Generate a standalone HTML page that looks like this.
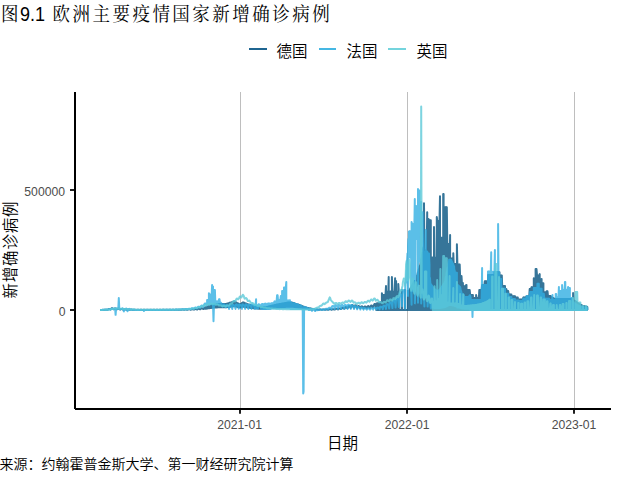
<!DOCTYPE html>
<html lang="zh">
<head>
<meta charset="utf-8">
<title>图9.1 欧洲主要疫情国家新增确诊病例</title>
<style>
html,body{margin:0;padding:0;background:#fff;}
body{width:640px;height:480px;overflow:hidden;}
svg{display:block;}
.sans{font-family:"Liberation Sans","Noto Sans CJK SC",sans-serif;font-weight:350;}
.serif{font-family:"Liberation Sans","Noto Serif CJK SC",serif;}
.tick{font-family:"Liberation Sans",sans-serif;font-size:12.2px;fill:#4d4d4d;}
</style>
</head>
<body>
<svg xmlns="http://www.w3.org/2000/svg" width="640" height="480" viewBox="0 0 640 480">
<rect x="0" y="0" width="640" height="480" fill="#ffffff"/>
<!-- title -->
<text class="serif" transform="translate(0,20.85) scale(1,1.1)" x="1" y="0" font-size="17.5" fill="#000">图</text>
<text class="serif" transform="translate(20.1,20.6) scale(1.035,1.115)" x="0" y="0" font-size="17.4" fill="#000">9.1</text>
<text class="serif" transform="translate(0,20.85) scale(1,1.1)" x="52.5" y="0" font-size="17.5" letter-spacing="2.5" fill="#000">欧洲主要疫情国家新增确诊病例</text>
<!-- legend -->
<g stroke-width="2" fill="none">
<line x1="249" y1="49" x2="267" y2="49" stroke="#1f6591"/>
<line x1="319" y1="49" x2="336" y2="49" stroke="#45b7e3"/>
<line x1="388" y1="49" x2="406" y2="49" stroke="#74d4dd"/>
</g>
<g class="sans" font-size="15.5" fill="#000">
<text x="276.5" y="56.5">德国</text>
<text x="346.5" y="56.5">法国</text>
<text x="416.5" y="56.5">英国</text>
</g>
<!-- grid -->
<g fill="#bebebe">
<rect x="240" y="92" width="1" height="316"/>
<rect x="407" y="92" width="1" height="316"/>
<rect x="574" y="92" width="1" height="316"/>
</g>
<!-- data -->
<g id="series">
<polyline fill="none" stroke="#045380" stroke-opacity="0.8" stroke-width="2" stroke-linejoin="round" points="100.0,310.0 100.5,310.0 101.0,310.0 101.4,310.0 101.9,309.9 102.3,309.9 102.8,309.8 103.2,309.9 103.7,309.9 104.2,309.9 104.6,309.8 105.1,309.7 105.5,309.7 106.0,309.7 106.4,309.7 106.9,309.8 107.4,309.8 107.8,309.6 108.3,309.3 108.7,309.1 109.2,309.0 109.6,309.1 110.1,309.3 110.6,309.4 111.0,309.1 111.5,308.4 111.9,308.2 112.4,308.3 112.8,308.6 113.3,309.0 113.8,309.2 114.2,309.0 114.7,308.4 115.1,308.4 115.6,308.4 116.1,308.7 116.5,309.1 117.0,309.3 117.4,309.1 117.9,308.7 118.3,308.6 118.8,308.7 119.3,309.0 119.7,309.3 120.2,309.5 120.6,309.3 121.1,309.0 121.5,309.0 122.0,309.0 122.5,309.2 122.9,309.5 123.4,309.6 123.8,309.5 124.3,309.3 124.7,309.2 125.2,309.3 125.7,309.4 126.1,309.6 126.6,309.7 127.0,309.6 127.5,309.4 127.9,309.4 128.4,309.5 128.9,309.6 129.3,309.7 129.8,309.8 130.2,309.7 130.7,309.6 131.1,309.6 131.6,309.6 132.1,309.7 132.5,309.8 133.0,309.9 133.4,309.8 133.9,309.8 134.4,309.8 134.8,309.8 135.3,309.8 135.7,309.9 136.2,309.9 136.6,309.9 137.1,309.8 137.6,309.8 138.0,309.8 138.5,309.8 138.9,309.9 139.4,309.9 139.8,309.9 140.3,309.8 140.8,309.8 141.2,309.8 141.7,309.8 142.1,309.9 142.6,309.9 143.0,309.9 143.5,309.8 144.0,309.8 144.4,309.8 144.9,309.8 145.3,309.9 145.8,309.9 146.2,309.9 146.7,309.8 147.2,309.8 147.6,309.8 148.1,309.8 148.5,309.9 149.0,309.9 149.5,309.9 149.9,309.8 150.4,309.8 150.8,309.8 151.3,309.8 151.7,309.9 152.2,309.9 152.7,309.9 153.1,309.8 153.6,309.8 154.0,309.8 154.5,309.8 154.9,309.9 155.4,309.9 155.9,309.9 156.3,309.8 156.8,309.8 157.2,309.8 157.7,309.8 158.1,309.9 158.6,309.9 159.1,309.9 159.5,309.8 160.0,309.8 160.4,309.8 160.9,309.8 161.3,309.9 161.8,309.9 162.3,309.9 162.7,309.8 163.2,309.8 163.6,309.8 164.1,309.8 164.5,309.9 165.0,309.9 165.5,309.9 165.9,309.8 166.4,309.8 166.8,309.8 167.3,309.8 167.8,309.9 168.2,309.9 168.7,309.9 169.1,309.8 169.6,309.8 170.0,309.8 170.5,309.8 171.0,309.9 171.4,309.9 171.9,309.9 172.3,309.8 172.8,309.8 173.2,309.8 173.7,309.8 174.2,309.9 174.6,309.9 175.1,309.9 175.5,309.8 176.0,309.8 176.4,309.8 176.9,309.8 177.4,309.8 177.8,309.9 178.3,309.8 178.7,309.7 179.2,309.7 179.6,309.7 180.1,309.7 180.6,309.8 181.0,309.8 181.5,309.8 181.9,309.6 182.4,309.6 182.9,309.6 183.3,309.6 183.8,309.7 184.2,309.8 184.7,309.7 185.1,309.5 185.6,309.4 186.1,309.4 186.5,309.5 187.0,309.7 187.4,309.7 187.9,309.6 188.3,309.4 188.8,309.3 189.3,309.3 189.7,309.4 190.2,309.6 190.6,309.7 191.1,309.5 191.5,309.3 192.0,309.2 192.5,309.2 192.9,309.3 193.4,309.5 193.8,309.6 194.3,309.5 194.7,309.1 195.2,309.0 195.7,309.0 196.1,309.2 196.6,309.4 197.0,309.5 197.5,309.4 197.9,309.0 198.4,308.8 198.9,308.8 199.3,308.9 199.8,309.2 200.2,309.3 200.7,309.0 201.2,308.4 201.6,308.2 202.1,308.2 202.5,308.5 203.0,308.9 203.4,309.1 203.9,308.7 204.4,307.8 204.8,307.5 205.3,308.8 205.3,307.4 205.7,307.2 205.7,308.8 206.2,308.7 206.2,307.1 206.6,306.9 206.6,308.6 207.1,308.6 207.1,306.8 207.6,306.6 207.6,308.5 208.0,308.4 208.0,306.5 208.5,306.3 208.5,308.3 208.9,308.3 208.9,306.2 209.4,306.0 209.4,308.2 209.8,308.1 209.8,305.8 210.3,305.6 210.3,308.0 210.8,308.0 210.8,305.5 211.2,305.3 211.2,307.9 211.7,307.8 211.7,305.1 212.1,305.0 212.1,307.7 212.6,307.7 212.6,304.9 213.0,304.8 213.0,307.7 213.5,307.6 213.5,304.7 214.0,304.7 214.0,307.6 214.4,307.6 214.4,304.6 214.9,304.5 214.9,307.5 215.3,307.5 215.3,304.4 215.8,304.4 215.8,307.5 216.3,307.4 216.3,304.3 216.7,304.2 216.7,307.4 217.2,307.4 217.2,304.1 217.6,304.1 217.6,307.3 218.1,307.3 218.1,304.0 218.5,304.0 218.5,307.3 219.0,307.3 219.0,304.0 219.5,304.0 219.5,307.3 219.9,307.3 219.9,304.0 220.4,304.0 220.4,307.3 220.8,307.3 220.8,304.0 221.3,304.0 221.3,307.3 221.7,307.3 221.7,304.0 222.2,304.0 222.2,307.3 222.7,307.3 222.7,304.0 223.1,304.0 223.1,307.3 223.6,307.3 223.6,304.0 224.0,304.0 224.0,307.3 224.5,307.3 224.5,304.0 224.9,304.0 224.9,307.3 225.4,307.3 225.4,304.0 225.9,304.0 225.9,307.3 226.3,307.3 226.3,303.9 226.8,303.8 226.8,307.2 227.2,307.1 227.2,303.6 227.7,303.5 227.7,307.1 228.1,307.0 228.1,303.4 228.6,303.2 228.6,306.9 229.1,306.9 229.1,303.1 229.5,302.9 229.5,306.8 230.0,306.8 230.0,302.8 230.4,302.7 230.4,306.7 230.9,306.6 230.9,302.5 231.3,302.4 231.3,306.6 231.8,306.5 231.8,302.2 232.3,302.1 232.3,306.4 232.7,306.4 232.7,301.9 233.2,301.8 233.2,306.3 233.6,306.2 233.6,301.6 234.1,301.4 234.1,306.1 234.6,306.1 234.6,301.3 235.0,301.6 235.0,306.2 235.5,306.4 235.5,301.9 235.9,302.2 235.9,306.5 236.4,306.6 236.4,302.5 236.8,302.8 236.8,306.7 237.3,306.9 237.3,303.1 237.8,303.3 237.8,307.0 238.2,307.1 238.2,303.6 238.7,303.8 238.7,307.2 239.1,307.3 239.1,304.1 239.6,304.3 239.6,307.4 240.0,307.5 240.0,304.5 240.5,304.1 240.5,307.4 241.0,307.2 241.0,303.8 241.4,303.5 241.4,307.1 241.9,306.9 241.9,303.1 242.3,302.8 242.3,306.8 242.8,306.6 242.8,302.5 243.2,302.4 243.2,306.6 243.7,306.7 243.7,302.6 244.2,302.8 244.2,306.8 244.6,306.9 244.6,303.0 245.1,303.2 245.1,306.9 245.5,307.0 245.5,303.4 246.0,303.6 246.0,307.1 246.4,307.2 246.4,303.8 246.9,304.0 246.9,307.3 247.4,307.4 247.4,304.2 247.8,304.4 247.8,307.5 248.3,307.6 248.3,304.6 248.7,304.7 248.7,307.6 249.2,307.7 249.2,304.8 249.7,305.0 249.7,307.7 250.1,307.8 250.1,305.1 250.6,305.2 250.6,307.9 251.0,307.9 251.0,305.4 251.5,305.5 251.5,308.0 251.9,308.0 251.9,305.6 252.4,305.7 252.4,308.1 252.9,308.1 252.9,305.9 253.3,306.0 253.3,308.2 253.8,308.3 253.8,306.1 254.2,306.2 254.2,308.3 254.7,308.3 254.7,306.3 255.1,306.4 255.1,308.4 255.6,308.4 255.6,306.5 256.1,306.5 256.1,308.4 256.5,308.5 256.5,306.6 257.0,306.7 257.0,308.5 257.4,308.5 257.4,306.8 257.9,306.8 257.9,308.6 258.3,308.6 258.3,306.9 258.8,307.0 258.8,308.7 259.3,308.7 259.3,307.1 259.7,307.2 259.7,308.7 260.2,308.7 260.2,307.2 260.6,307.2 260.6,308.7 261.1,308.7 261.1,307.2 261.5,307.2 261.5,308.7 262.0,308.7 262.0,307.1 262.5,307.1 262.5,308.7 262.9,308.7 262.9,307.1 263.4,307.1 263.4,308.7 263.8,308.7 263.8,307.1 264.3,307.1 264.3,308.7 264.7,308.7 264.7,307.1 265.2,307.1 265.2,308.7 265.7,308.7 265.7,307.0 266.1,307.0 266.1,308.7 266.6,308.7 266.6,307.0 267.0,307.0 267.0,308.6 267.5,308.6 267.5,306.9 268.0,306.8 268.0,308.5 268.4,308.5 268.4,306.6 268.9,306.5 268.9,308.4 269.3,308.4 269.3,306.4 269.8,306.3 269.8,308.3 270.2,308.3 270.2,306.2 270.7,306.1 270.7,308.2 271.2,308.2 271.2,306.0 271.6,305.8 271.6,308.1 272.1,308.1 272.1,305.7 272.5,305.6 272.5,308.0 273.0,308.0 273.0,305.5 273.4,305.4 273.4,307.9 273.9,307.9 273.9,305.3 274.4,305.2 274.4,307.8 274.8,307.8 274.8,305.1 275.3,305.0 275.3,307.8 275.7,307.7 275.7,304.9 276.2,304.8 276.2,307.7 276.6,307.6 276.6,304.7 277.1,304.6 277.1,307.6 277.6,307.5 277.6,304.5 278.0,304.4 278.0,307.5 278.5,307.5 278.5,304.3 278.9,304.2 278.9,307.4 279.4,307.4 279.4,304.1 279.8,304.0 279.8,307.3 280.3,307.3 280.3,303.9 280.8,303.9 280.8,307.2 281.2,307.2 281.2,303.8 281.7,303.7 281.7,307.2 282.1,307.1 282.1,303.6 282.6,303.5 282.6,307.1 283.1,307.1 283.1,303.4 283.5,303.4 283.5,307.0 284.0,307.0 284.0,303.3 284.4,303.2 284.4,306.9 284.9,306.9 284.9,303.1 285.3,303.1 285.3,306.9 285.8,306.8 285.8,303.0 286.3,302.9 286.3,306.8 286.7,306.8 286.7,302.8 287.2,302.7 287.2,306.7 287.6,306.7 287.6,302.7 288.1,302.6 288.1,306.7 288.5,306.7 288.5,302.6 289.0,302.6 289.0,306.7 289.5,306.7 289.5,302.6 289.9,302.6 289.9,306.7 290.4,306.7 290.4,302.6 290.8,302.6 290.8,306.7 291.3,306.7 291.3,302.6 291.7,302.6 291.7,306.7 292.2,306.7 292.2,302.7 292.7,302.8 292.7,306.8 293.1,306.8 293.1,303.0 293.6,303.2 293.6,306.9 294.0,307.0 294.0,303.3 294.5,303.5 294.5,307.1 294.9,307.1 294.9,303.6 295.4,303.8 295.4,307.2 295.9,307.3 295.9,304.0 296.3,304.1 296.3,307.3 296.8,307.4 296.8,304.3 297.2,304.4 297.2,307.5 297.7,307.5 297.7,304.5 298.1,304.7 298.1,307.6 298.6,307.7 298.6,304.8 299.1,305.0 299.1,307.7 299.5,307.8 299.5,305.1 300.0,305.3 300.0,307.9 300.4,308.0 300.4,305.5 300.9,305.7 300.9,308.0 301.4,308.1 301.4,305.8 301.8,306.0 301.8,308.2 302.3,308.3 302.3,306.2 302.7,306.4 302.7,308.4 303.2,308.5 303.2,306.6 303.6,306.8 303.6,308.5 304.1,308.6 304.1,306.9 304.6,307.1 304.6,308.7 305.0,308.8 305.0,307.3 305.5,307.4 305.5,308.8 305.9,308.9 305.9,307.5 306.4,307.6 306.4,308.9 306.8,309.0 306.8,307.7 307.3,307.9 307.3,309.0 307.8,309.1 307.8,308.0 308.2,308.1 308.2,309.1 308.7,309.2 308.7,308.2 309.1,308.3 309.1,309.2 309.6,309.3 309.6,308.4 310.0,308.5 310.0,309.3 310.5,309.4 310.5,308.6 311.0,308.6 311.0,309.4 311.4,309.4 311.4,308.7 311.9,308.8 311.9,309.5 312.3,309.5 312.8,309.4 313.2,309.0 313.7,309.1 314.2,309.2 314.6,309.4 315.1,309.6 315.5,309.7 316.0,309.6 316.5,309.4 316.9,309.4 317.4,309.5 317.8,309.6 318.3,309.7 318.7,309.8 319.2,309.7 319.7,309.5 320.1,309.5 320.6,309.5 321.0,309.6 321.5,309.8 321.9,309.8 322.4,309.7 322.9,309.6 323.3,309.6 323.8,309.6 324.2,309.6 324.7,309.7 325.1,309.8 325.6,309.7 326.1,309.5 326.5,309.5 327.0,309.5 327.4,309.5 327.9,309.7 328.3,309.7 328.8,309.6 329.3,309.4 329.7,309.3 330.2,309.3 330.6,309.4 331.1,309.6 331.5,309.7 332.0,309.5 332.5,309.3 332.9,309.2 333.4,309.2 333.8,309.3 334.3,309.5 334.8,309.5 335.2,309.3 335.7,308.9 336.1,308.8 336.6,308.8 337.0,308.9 337.5,309.2 338.0,309.4 338.4,309.1 338.9,308.5 339.3,308.4 339.8,308.4 340.2,308.6 340.7,309.0 341.2,309.1 341.6,308.7 342.1,307.9 342.5,307.7 343.0,307.6 343.4,308.0 343.9,308.5 344.4,308.7 344.8,308.3 345.3,307.1 345.7,306.9 346.2,306.8 346.6,307.3 347.1,308.1 347.6,308.3 348.0,307.7 348.5,306.3 348.9,305.9 349.4,305.9 349.9,306.5 350.3,307.5 350.8,307.9 351.2,307.1 351.7,305.3 352.1,305.0 352.6,305.0 353.1,305.8 353.5,307.2 354.0,307.7 354.4,307.0 354.9,305.4 355.3,305.3 355.8,305.6 356.3,306.4 356.7,307.6 357.2,308.1 357.6,307.5 358.1,306.2 358.5,306.0 359.0,306.2 359.5,306.9 359.9,307.9 360.4,308.3 360.8,307.7 361.3,306.5 361.7,306.3 362.2,306.5 362.7,307.1 363.1,308.0 363.6,308.4 364.0,307.9 364.5,306.6 364.9,306.4 365.4,306.4 365.9,307.0 366.3,307.9 366.8,308.3 367.2,307.7 367.7,306.3 368.2,306.0 368.6,306.1 369.1,306.7 369.5,307.7 370.0,308.1 370.4,307.4 370.9,305.8 371.4,305.4 371.8,305.5 372.3,306.2 372.7,307.3 373.2,307.7 373.6,306.8 374.1,304.6 374.6,304.0 375.0,303.9 375.5,304.8 375.9,306.2 376.4,310.0 376.4,303.5 376.8,303.5 376.8,310.0 377.3,310.0 377.3,303.4 377.8,303.2 377.8,310.0 378.2,310.0 378.2,303.1 378.7,302.9 378.7,310.0 379.1,310.0 379.1,302.8 379.6,302.6 379.6,310.0 380.0,310.0 380.0,302.5 380.5,302.3 380.5,310.0 381.0,310.0 381.0,302.1 381.4,301.7 381.4,310.0 381.9,310.0 381.9,293.2 382.3,295.0 382.3,310.0 382.8,310.0 382.8,295.0 383.3,295.0 383.3,310.0 383.7,310.0 383.7,295.0 384.2,295.0 384.2,310.0 384.6,310.0 384.6,295.0 385.1,295.0 385.1,310.0 385.5,310.0 385.5,295.0 386.0,286.1 386.0,310.0 386.5,310.0 386.5,291.5 386.9,291.5 386.9,310.0 387.4,310.0 387.4,291.5 387.8,291.5 387.8,310.0 388.3,310.0 388.3,291.5 388.7,277.0 388.7,310.0 389.2,310.0 389.2,291.5 389.7,291.5 389.7,310.0 390.1,310.0 390.1,291.5 390.6,291.5 390.6,310.0 391.0,310.0 391.0,291.5 391.5,291.5 391.5,310.0 391.9,310.0 391.9,277.0 392.4,291.5 392.4,310.0 392.9,310.0 392.9,291.5 393.3,291.5 393.3,310.0 393.8,310.0 393.8,291.5 394.2,291.5 394.2,310.0 394.7,310.0 394.7,291.5 395.1,278.2 395.1,310.0 395.6,310.0 395.6,281.0 396.1,281.0 396.1,310.0 396.5,310.0 396.5,291.5 397.0,291.5 397.0,310.0 397.4,310.0 397.4,291.5 397.9,291.5 397.9,310.0 398.3,310.0 398.3,284.0 398.8,291.2 398.8,310.0 399.3,310.0 399.7,310.0 400.2,310.0 400.6,310.0 401.1,310.0 401.6,310.0 401.6,290.0 402.0,290.0 402.0,310.0 402.5,310.0 402.9,310.0 403.4,310.0 403.8,310.0 404.3,310.0 404.8,310.0 404.8,290.0 405.2,290.0 405.2,310.0 405.7,310.0 406.1,310.0 406.6,310.0 407.0,310.0 407.5,310.0 408.0,310.0 408.0,291.0 408.4,290.8 408.4,310.0 408.9,310.0 408.9,291.0 409.3,290.2 409.3,310.0 409.8,310.0 409.8,289.4 410.2,288.6 410.2,310.0 410.7,310.0 410.7,287.8 411.2,287.0 411.2,310.0 411.6,310.0 411.6,286.2 412.1,285.4 412.1,310.0 412.5,310.0 412.5,284.6 413.0,283.8 413.0,310.0 413.4,310.0 413.4,282.9 413.9,282.0 413.9,310.0 414.4,310.0 414.4,281.1 414.8,310.0 415.3,310.0 415.7,310.0 416.2,310.0 416.7,310.0 417.1,275.3 417.1,310.0 417.6,310.0 417.6,273.7 418.0,272.1 418.0,310.0 418.5,310.0 418.5,270.5 418.9,268.9 418.9,310.0 419.4,310.0 419.4,267.3 419.9,265.7 419.9,310.0 420.3,310.0 420.3,264.1 420.8,262.5 420.8,310.0 421.2,310.0 421.2,260.2 421.7,257.6 421.7,310.0 422.1,310.0 422.1,255.0 422.6,252.4 422.6,310.0 423.1,310.0 423.1,249.8 423.5,247.2 423.5,310.0 424.0,310.0 424.0,203.2 424.4,250.0 424.4,310.0 424.9,310.0 424.9,250.0 425.3,250.0 425.3,310.0 425.8,310.0 425.8,250.0 426.3,250.0 426.3,310.0 426.7,310.0 426.7,250.0 427.2,212.2 427.2,310.0 427.6,310.0 427.6,219.0 428.1,219.0 428.1,310.0 428.5,310.0 428.5,219.0 429.0,220.2 429.0,310.0 429.5,310.0 429.5,220.2 429.9,220.2 429.9,310.0 430.4,310.0 430.4,220.2 430.8,220.2 430.8,310.0 431.3,310.0 431.3,257.6 431.7,257.6 431.7,310.0 432.2,310.0 432.2,257.6 432.7,257.6 432.7,310.0 433.1,310.0 433.1,257.6 433.6,257.6 433.6,310.0 434.0,310.0 434.0,227.1 434.5,257.6 434.5,310.0 435.0,310.0 435.0,257.6 435.4,257.6 435.4,310.0 435.9,310.0 435.9,257.6 436.3,257.6 436.3,310.0 436.8,310.0 436.8,217.1 437.2,220.9 437.2,310.0 437.7,310.0 437.7,220.9 438.2,220.9 438.2,310.0 438.6,310.0 438.6,220.9 439.1,220.9 439.1,310.0 439.5,310.0 439.5,220.9 440.0,196.3 440.0,310.0 440.4,310.0 440.4,237.8 440.9,237.8 440.9,310.0 441.4,310.0 441.4,237.8 441.8,237.8 441.8,310.0 442.3,310.0 442.3,237.8 442.7,237.8 442.7,310.0 443.2,310.0 443.2,194.0 443.6,194.0 443.6,310.0 444.1,310.0 444.1,207.2 444.6,207.2 444.6,310.0 445.0,310.0 445.0,207.2 445.5,207.2 445.5,310.0 445.9,310.0 445.9,207.2 446.4,207.2 446.4,310.0 446.8,310.0 446.8,207.2 447.3,243.9 447.3,310.0 447.8,310.0 447.8,243.9 448.2,243.9 448.2,310.0 448.7,310.0 448.7,243.9 449.1,262.0 449.1,310.0 449.6,310.0 449.6,262.2 450.1,235.0 450.1,310.0 450.5,310.0 450.5,258.4 451.0,258.4 451.0,310.0 451.4,310.0 451.4,258.4 451.9,258.4 451.9,310.0 452.3,310.0 452.3,258.4 452.8,258.4 452.8,310.0 453.3,310.0 453.3,253.2 453.7,264.0 453.7,310.0 454.2,310.0 454.2,264.0 454.6,264.0 454.6,310.0 455.1,310.0 455.1,264.0 455.5,264.0 455.5,310.0 456.0,310.0 456.0,264.0 456.5,264.0 456.5,310.0 456.9,310.0 456.9,244.2 457.4,264.5 457.4,310.0 457.8,310.0 457.8,264.5 458.3,264.5 458.3,310.0 458.7,310.0 458.7,264.5 459.2,264.5 459.2,310.0 459.7,310.0 459.7,264.5 460.1,276.0 460.1,310.0 460.6,310.0 460.6,276.0 461.0,276.0 461.0,310.0 461.5,310.0 461.5,276.0 461.9,283.1 461.9,310.0 462.4,310.0 462.4,283.1 462.9,283.1 462.9,310.0 463.3,310.0 463.3,286.2 463.8,286.2 463.8,310.0 464.2,310.0 464.2,286.2 464.7,286.2 464.7,310.0 465.1,310.0 465.1,286.2 465.6,286.2 465.6,310.0 466.1,310.0 466.1,285.0 466.5,285.0 466.5,310.0 467.0,310.0 467.0,290.0 467.4,290.0 467.4,310.0 467.9,310.0 467.9,290.0 468.4,290.0 468.4,310.0 468.8,310.0 468.8,290.0 469.3,290.0 469.3,310.0 469.7,310.0 469.7,290.0 470.2,295.0 470.2,310.0 470.6,310.0 470.6,295.0 471.1,295.0 471.1,310.0 471.6,310.0 471.6,295.0 472.0,295.0 472.0,310.0 472.5,310.0 472.5,295.0 472.9,295.0 472.9,310.0 473.4,310.0 473.4,298.0 473.8,298.0 473.8,310.0 474.3,310.0 474.3,298.0 474.8,298.0 474.8,310.0 475.2,310.0 475.2,298.0 475.7,298.0 475.7,310.0 476.1,310.0 476.1,295.0 476.6,298.0 476.6,310.0 477.0,310.0 477.0,298.0 477.5,298.0 477.5,310.0 478.0,310.0 478.0,298.0 478.4,298.0 478.4,310.0 478.9,310.0 478.9,298.0 479.3,290.0 479.3,310.0 479.8,310.0 479.8,290.0 480.2,290.0 480.2,310.0 480.7,310.0 480.7,290.0 481.2,290.0 481.2,310.0 481.6,310.0 481.6,290.0 482.1,285.0 482.1,310.0 482.5,310.0 482.5,285.0 483.0,285.0 483.0,310.0 483.5,310.0 483.5,285.0 483.9,285.0 483.9,310.0 484.4,310.0 484.4,285.0 484.8,281.3 484.8,310.0 485.3,310.0 485.3,281.3 485.7,281.3 485.7,310.0 486.2,310.0 486.2,281.3 486.7,281.3 486.7,310.0 487.1,310.0 487.1,281.3 487.6,281.3 487.6,310.0 488.0,310.0 488.0,275.0 488.5,275.0 488.5,310.0 488.9,310.0 488.9,275.0 489.4,275.0 489.4,310.0 489.9,310.0 489.9,275.0 490.3,275.0 490.3,310.0 490.8,310.0 490.8,275.0 491.2,275.0 491.2,310.0 491.7,310.0 491.7,275.0 492.1,275.0 492.1,310.0 492.6,310.0 492.6,275.0 493.1,275.0 493.1,310.0 493.5,310.0 493.5,275.0 494.0,275.0 494.0,310.0 494.4,310.0 494.4,272.0 494.9,272.0 494.9,310.0 495.3,310.0 495.3,272.0 495.8,272.0 495.8,310.0 496.3,310.0 496.3,272.0 496.7,272.0 496.7,310.0 497.2,310.0 497.2,272.0 497.6,272.0 497.6,310.0 498.1,310.0 498.1,272.0 498.5,272.3 498.5,310.0 499.0,310.0 499.0,272.3 499.5,272.3 499.5,310.0 499.9,310.0 499.9,275.4 500.4,275.4 500.4,310.0 500.8,310.0 500.8,275.4 501.3,275.4 501.3,310.0 501.8,310.0 501.8,275.4 502.2,286.0 502.2,310.0 502.7,310.0 502.7,286.0 503.1,286.0 503.1,310.0 503.6,310.0 503.6,286.0 504.0,286.0 504.0,310.0 504.5,310.0 504.5,286.0 505.0,286.0 505.0,310.0 505.4,310.0 505.4,288.9 505.9,288.9 505.9,310.0 506.3,310.0 506.3,288.9 506.8,291.0 506.8,310.0 507.2,310.0 507.2,291.0 507.7,291.0 507.7,310.0 508.2,310.0 508.2,291.0 508.6,294.4 508.6,310.0 509.1,310.0 509.1,294.4 509.5,294.4 509.5,310.0 510.0,310.0 510.0,294.4 510.4,294.4 510.4,310.0 510.9,310.0 510.9,294.4 511.4,294.4 511.4,310.0 511.8,310.0 511.8,296.2 512.3,296.2 512.3,310.0 512.7,310.0 512.7,296.2 513.2,296.2 513.2,310.0 513.6,310.0 513.6,296.2 514.1,296.2 514.1,310.0 514.6,310.0 514.6,296.2 515.0,296.2 515.0,310.0 515.5,310.0 515.5,297.5 515.9,297.5 515.9,310.0 516.4,310.0 516.4,297.5 516.9,297.5 516.9,310.0 517.3,310.0 517.3,297.5 517.8,297.5 517.8,310.0 518.2,310.0 518.2,299.4 518.7,299.4 518.7,310.0 519.1,310.0 519.1,299.4 519.6,299.4 519.6,310.0 520.1,310.0 520.1,299.4 520.5,299.4 520.5,310.0 521.0,310.0 521.0,299.4 521.4,299.4 521.4,310.0 521.9,310.0 521.9,299.4 522.3,299.4 522.3,310.0 522.8,310.0 522.8,299.4 523.3,297.5 523.3,310.0 523.7,310.0 523.7,297.5 524.2,297.5 524.2,310.0 524.6,310.0 524.6,297.5 525.1,297.5 525.1,310.0 525.5,310.0 525.5,297.5 526.0,297.5 526.0,310.0 526.5,310.0 526.5,296.2 526.9,296.2 526.9,310.0 527.4,310.0 527.4,296.2 527.8,296.2 527.8,310.0 528.3,310.0 528.3,296.2 528.7,296.2 528.7,310.0 529.2,310.0 529.2,296.2 529.7,289.1 529.7,310.0 530.1,310.0 530.1,289.1 530.6,289.1 530.6,310.0 531.0,310.0 531.0,289.1 531.5,287.2 531.5,310.0 531.9,310.0 531.9,287.2 532.4,287.2 532.4,310.0 532.9,310.0 532.9,287.2 533.3,287.2 533.3,310.0 533.8,310.0 533.8,278.2 534.2,287.2 534.2,310.0 534.7,310.0 534.7,278.2 535.2,278.2 535.2,310.0 535.6,310.0 535.6,269.1 536.1,269.1 536.1,310.0 536.5,310.0 536.5,269.1 537.0,275.4 537.0,310.0 537.4,310.0 537.4,275.4 537.9,275.4 537.9,310.0 538.4,310.0 538.4,275.4 538.8,275.4 538.8,310.0 539.3,310.0 539.3,275.4 539.7,274.1 539.7,310.0 540.2,310.0 540.2,279.1 540.6,279.1 540.6,310.0 541.1,310.0 541.1,283.2 541.6,279.1 541.6,310.0 542.0,310.0 542.0,283.2 542.5,283.2 542.5,310.0 542.9,310.0 542.9,283.2 543.4,283.2 543.4,310.0 543.8,310.0 543.8,292.2 544.3,292.2 544.3,310.0 544.8,310.0 544.8,292.2 545.2,292.2 545.2,310.0 545.7,310.0 545.7,292.2 546.1,292.2 546.1,310.0 546.6,310.0 546.6,291.3 547.0,291.3 547.0,310.0 547.5,310.0 547.5,291.3 548.0,296.0 548.0,310.0 548.4,310.0 548.4,296.0 548.9,296.0 548.9,310.0 549.3,310.0 549.3,296.0 549.8,296.0 549.8,310.0 550.3,310.0 550.3,296.0 550.7,296.0 550.7,310.0 551.2,310.0 551.2,297.0 551.6,297.3 551.6,310.0 552.1,310.0 552.1,297.5 552.5,297.7 552.5,310.0 553.0,310.0 553.0,297.9 553.5,298.2 553.5,310.0 553.9,310.0 553.9,298.4 554.4,298.6 554.4,310.0 554.8,310.0 554.8,298.9 555.3,299.0 555.3,310.0 555.7,310.0 555.7,299.0 556.2,299.0 556.2,310.0 556.7,310.0 556.7,299.0 557.1,299.0 557.1,310.0 557.6,310.0 557.6,299.0 558.0,299.0 558.0,310.0 558.5,310.0 558.5,299.0 558.9,299.0 558.9,310.0 559.4,310.0 559.4,299.0 559.9,299.0 559.9,310.0 560.3,310.0 560.3,299.0 560.8,299.0 560.8,310.0 561.2,310.0 561.2,299.0 561.7,299.0 561.7,310.0 562.1,310.0 562.1,299.0 562.6,299.0 562.6,310.0 563.1,310.0 563.1,299.0 563.5,299.0 563.5,310.0 564.0,310.0 564.0,299.0 564.4,299.0 564.4,310.0 564.9,310.0 564.9,299.0 565.3,299.0 565.3,310.0 565.8,310.0 565.8,299.0 566.3,299.0 566.3,310.0 566.7,310.0 566.7,299.0 567.2,299.0 567.2,310.0 567.6,310.0 567.6,299.0 568.1,299.0 568.1,310.0 568.6,310.0 568.6,299.0 569.0,299.0 569.0,310.0 569.5,310.0 569.5,299.0 569.9,299.0 569.9,310.0 570.4,310.0 570.4,299.0 570.8,299.0 570.8,310.0 571.3,310.0 571.3,299.1 571.8,299.0 571.8,310.0 572.2,310.0 572.2,299.1 572.7,299.0 572.7,310.0 573.1,310.0 573.1,293.0 573.6,300.2 573.6,310.0 574.0,310.0 574.0,300.5 574.5,300.7 574.5,310.0 575.0,310.0 575.0,300.9 575.4,301.2 575.4,310.0 575.9,310.0 575.9,301.6 576.3,301.9 576.3,310.0 576.8,310.0 576.8,302.3 577.2,302.6 577.2,310.0 577.7,310.0 577.7,303.0 578.2,303.3 578.2,310.0 578.6,310.0 578.6,303.6 579.1,304.0 579.1,310.0 579.5,310.0 579.5,304.2 580.0,304.4 580.0,310.0 580.4,310.0 580.4,304.7 580.9,304.9 580.9,310.0 581.4,310.0 581.4,305.1 581.8,305.4 581.8,310.0 582.3,310.0 582.3,305.6 582.7,305.8 582.7,310.0 583.2,310.0 583.2,306.0 583.7,306.2 583.7,310.0 584.1,310.0 584.1,306.3 584.6,306.4 584.6,310.0 585.0,310.0 585.0,306.5 585.5,306.7 585.5,310.0 585.9,310.0 585.9,306.8 586.4,306.9 586.4,310.0 586.9,310.0 586.9,307.0 587.3,307.0 587.3,310.0"/>
<polyline fill="none" stroke="#32afe2" stroke-opacity="0.8" stroke-width="2" stroke-linejoin="round" points="100.0,310.0 100.5,310.0 101.0,310.0 101.4,309.9 101.9,309.9 102.3,309.9 102.8,309.8 103.2,309.8 103.7,309.8 104.2,309.9 104.6,309.8 105.1,309.7 105.5,309.7 106.0,309.6 106.4,309.6 106.9,309.7 107.4,309.7 107.8,309.6 108.3,309.5 108.7,309.4 109.2,309.3 109.6,309.3 110.1,309.4 110.6,309.5 111.0,309.2 111.5,308.9 111.9,308.8 112.4,308.8 112.8,308.8 113.3,309.0 113.8,309.2 114.2,308.8 114.7,308.6 115.1,308.5 115.6,314.8 116.1,308.6 116.5,308.9 117.0,309.1 117.4,308.7 117.9,308.5 118.3,308.5 118.8,298.0 119.3,308.7 119.7,309.1 120.2,309.3 120.6,309.1 121.1,309.0 121.5,309.0 122.0,309.1 122.5,308.2 122.9,309.5 123.4,309.6 123.8,311.4 124.3,309.4 124.7,309.4 125.2,309.5 125.7,309.5 126.1,308.5 126.6,309.7 127.0,309.6 127.5,311.2 127.9,309.6 128.4,309.6 128.9,309.6 129.3,308.8 129.8,309.8 130.2,309.7 130.7,309.7 131.1,309.7 131.6,309.7 132.1,309.8 132.5,309.8 133.0,309.9 133.4,309.8 133.9,309.8 134.4,309.8 134.8,309.9 135.3,309.9 135.7,309.9 136.2,309.9 136.6,309.9 137.1,309.9 137.6,309.9 138.0,309.9 138.5,309.9 138.9,309.9 139.4,309.9 139.8,309.9 140.3,309.9 140.8,309.9 141.2,309.9 141.7,309.9 142.1,309.9 142.6,309.9 143.0,309.9 143.5,309.9 144.0,311.0 144.4,309.9 144.9,309.9 145.3,309.9 145.8,309.9 146.2,309.9 146.7,309.9 147.2,309.9 147.6,309.9 148.1,309.9 148.5,309.9 149.0,309.9 149.5,309.9 149.9,309.9 150.4,309.9 150.8,309.9 151.3,309.9 151.7,309.9 152.2,309.9 152.7,309.9 153.1,309.9 153.6,309.9 154.0,309.9 154.5,309.9 154.9,309.9 155.4,309.9 155.9,309.9 156.3,309.9 156.8,309.9 157.2,309.9 157.7,309.9 158.1,309.9 158.6,309.9 159.1,309.9 159.5,309.9 160.0,309.9 160.4,309.9 160.9,309.9 161.3,309.9 161.8,309.9 162.3,309.9 162.7,309.8 163.2,309.8 163.6,309.8 164.1,309.8 164.5,309.9 165.0,309.9 165.5,309.9 165.9,309.8 166.4,309.8 166.8,309.8 167.3,309.8 167.8,309.9 168.2,309.9 168.7,309.8 169.1,309.8 169.6,309.8 170.0,309.8 170.5,309.8 171.0,309.8 171.4,309.9 171.9,309.8 172.3,309.7 172.8,309.7 173.2,309.7 173.7,309.7 174.2,309.7 174.6,309.8 175.1,309.7 175.5,309.6 176.0,309.6 176.4,309.6 176.9,309.6 177.4,309.7 177.8,309.7 178.3,309.6 178.7,309.5 179.2,309.4 179.6,309.4 180.1,309.5 180.6,309.6 181.0,309.6 181.5,309.4 181.9,309.3 182.4,309.3 182.9,309.3 183.3,309.3 183.8,309.4 184.2,309.5 184.7,309.3 185.1,309.1 185.6,309.1 186.1,309.1 186.5,309.1 187.0,309.3 187.4,309.4 187.9,309.1 188.3,308.9 188.8,308.8 189.3,308.8 189.7,308.8 190.2,309.0 190.6,309.2 191.1,308.7 191.5,308.5 192.0,308.3 192.5,308.3 192.9,308.3 193.4,308.7 193.8,308.9 194.3,308.3 194.7,307.9 195.2,307.6 195.7,307.6 196.1,307.6 196.6,308.1 197.0,308.4 197.5,307.6 197.9,307.0 198.4,306.7 198.9,306.7 199.3,306.7 199.8,307.3 200.2,307.8 200.7,306.7 201.2,305.9 201.6,305.5 202.1,305.6 202.5,305.7 203.0,306.5 203.4,307.0 203.9,305.4 204.4,304.2 204.8,303.5 205.3,303.5 205.7,303.5 206.2,304.6 206.6,305.5 207.1,304.2 207.1,300.0 207.6,300.0 207.6,304.2 208.0,304.2 208.0,300.0 208.5,300.0 208.5,304.2 208.9,304.2 208.9,293.2 209.4,294.5 209.4,304.2 209.8,304.2 209.8,294.5 210.3,294.5 210.3,304.2 210.8,304.2 210.8,294.5 211.2,294.5 211.2,304.2 211.7,304.2 211.7,294.5 212.1,285.1 212.1,304.2 212.6,304.2 212.6,286.4 213.0,286.4 213.0,304.2 213.5,321.2 214.0,304.2 214.0,290.1 214.4,290.1 214.4,304.2 214.9,304.2 214.9,290.1 215.3,301.4 215.3,304.2 215.8,304.2 215.8,301.4 216.3,301.4 216.3,304.2 216.7,304.2 216.7,301.4 217.2,301.4 217.2,304.2 217.6,304.2 217.6,301.4 218.1,301.4 218.1,304.2 218.5,304.2 218.5,301.4 219.0,299.2 219.0,304.2 219.5,304.2 219.5,299.2 219.9,303.4 220.4,302.5 220.8,302.5 221.3,303.3 221.7,304.0 222.2,305.5 222.7,306.6 223.1,305.1 223.6,304.4 224.0,304.3 224.5,304.7 224.9,305.1 225.4,306.3 225.9,307.2 226.3,305.2 226.8,305.0 227.2,305.4 227.7,305.8 228.1,306.0 228.6,307.0 229.1,309.0 229.5,305.2 230.0,305.0 230.4,305.4 230.9,305.8 231.3,306.0 231.8,307.0 232.3,309.0 232.7,305.1 233.2,304.8 233.6,305.1 234.1,305.5 234.6,305.7 235.0,306.7 235.5,308.9 235.9,304.6 236.4,304.3 236.8,304.6 237.3,305.0 237.8,305.2 238.2,306.4 238.7,308.8 239.1,304.6 239.6,304.4 240.0,304.9 240.5,305.3 241.0,305.5 241.4,306.6 241.9,308.9 242.3,304.6 242.8,304.3 243.2,304.7 243.7,305.1 244.2,305.4 244.6,306.5 245.1,308.9 245.5,304.6 246.0,304.3 246.4,304.7 246.9,305.2 247.4,305.5 247.8,306.6 248.3,308.9 248.7,304.7 249.2,304.5 249.7,304.9 250.1,305.3 250.6,305.6 251.0,306.7 251.5,308.9 251.9,304.7 252.4,304.4 252.9,304.8 253.3,305.2 253.8,305.5 254.2,306.6 254.7,308.9 255.1,304.6 255.6,304.3 256.1,299.2 256.1,308.3 256.5,305.1 257.0,305.4 257.4,306.5 257.9,308.8 258.3,304.5 258.8,304.2 259.3,304.5 259.7,305.0 260.2,305.3 260.6,306.4 261.1,308.8 261.5,304.3 262.0,308.9 262.0,304.0 262.5,304.0 262.5,308.9 262.9,308.9 262.9,303.9 263.4,304.5 263.4,308.9 263.8,308.9 263.8,305.5 264.3,305.4 264.3,308.9 264.7,308.9 264.7,303.8 265.2,303.8 265.2,308.9 265.7,308.9 265.7,303.8 266.1,303.7 266.1,308.9 266.6,308.9 266.6,304.3 267.0,305.3 267.0,308.9 267.5,308.9 267.5,305.2 268.0,303.6 268.0,308.9 268.4,308.9 268.4,303.5 268.9,303.5 268.9,308.9 269.3,308.9 269.3,303.4 269.8,303.9 269.8,308.9 270.2,308.9 270.2,304.8 270.7,304.6 270.7,308.9 271.2,308.3 271.2,303.3 271.6,303.3 271.6,308.3 272.1,308.3 272.1,303.3 272.5,303.3 272.5,308.3 273.0,308.3 273.0,303.3 273.4,303.3 273.4,308.3 273.9,308.3 273.9,303.3 274.4,301.4 274.4,308.3 274.8,308.3 274.8,301.4 275.3,301.4 275.3,308.3 275.7,308.3 275.7,301.4 276.2,301.4 276.2,308.3 276.6,308.3 276.6,301.4 277.1,295.2 277.1,308.3 277.6,308.3 277.6,295.2 278.0,299.9 278.0,308.3 278.5,308.3 278.5,299.9 278.9,299.9 278.9,308.3 279.4,308.3 279.4,299.9 279.8,299.9 279.8,308.3 280.3,308.3 280.3,299.9 280.8,296.1 280.8,308.3 281.2,308.3 281.2,296.1 281.7,296.1 281.7,308.3 282.1,308.3 282.1,291.1 282.6,291.1 282.6,308.3 283.1,308.3 283.1,291.1 283.5,291.1 283.5,308.3 284.0,308.3 284.0,287.4 284.4,287.4 284.4,308.3 284.9,308.3 284.9,287.4 285.3,287.4 285.3,308.3 285.8,308.3 285.8,287.4 286.3,282.1 286.3,308.3 286.7,308.3 286.7,300.5 287.2,300.5 287.2,308.3 287.6,308.3 287.6,300.5 288.1,300.5 288.1,308.3 288.5,308.3 288.5,300.5 289.0,300.5 289.0,308.3 289.5,308.3 289.5,300.5 289.9,300.2 289.9,308.3 290.4,308.9 290.4,302.1 290.8,302.4 290.8,308.9 291.3,308.9 291.3,302.5 291.7,302.7 291.7,308.9 292.2,308.9 292.2,303.4 292.7,304.5 292.7,308.9 293.1,308.9 293.1,304.6 293.6,303.2 293.6,308.9 294.0,308.9 294.0,303.3 294.5,303.4 294.5,308.9 294.9,308.9 294.9,303.5 295.4,304.2 295.4,308.9 295.9,308.9 295.9,305.4 296.3,305.5 296.3,308.9 296.8,308.9 296.8,304.1 297.2,304.2 297.2,308.9 297.7,308.9 297.7,304.4 298.1,304.6 298.1,308.9 298.6,308.9 298.6,305.3 299.1,306.5 299.1,308.9 299.5,308.9 299.5,306.6 300.0,305.2 300.0,308.9 300.4,308.9 300.4,305.4 300.9,305.6 300.9,308.9 301.4,308.9 301.4,305.7 301.8,306.5 301.8,308.9 302.3,308.9 302.3,307.7 302.7,307.9 302.7,308.9 303.2,393.6 303.6,391.5 304.1,308.9 304.1,306.8 304.6,307.0 304.6,308.9 305.0,308.9 305.0,307.8 305.5,308.9 305.9,309.1 306.4,307.6 306.4,308.9 306.8,308.9 306.8,307.8 307.3,308.0 307.3,308.9 307.8,308.9 307.8,308.1 308.2,308.9 308.7,310.0 309.1,310.1 309.6,308.6 309.6,308.9 310.0,308.9 310.0,308.7 310.5,308.8 310.5,308.9 311.0,308.9 311.4,309.7 311.9,310.8 312.3,310.8 312.8,309.3 313.2,309.3 313.7,309.3 314.2,309.3 314.6,310.0 315.1,311.0 315.5,311.0 316.0,309.5 316.5,309.5 316.9,309.5 317.4,309.6 317.8,310.2 318.3,309.8 318.7,309.9 319.2,309.6 319.7,309.5 320.1,309.6 320.6,309.6 321.0,309.6 321.5,309.7 321.9,309.9 322.4,309.5 322.9,309.4 323.3,309.5 323.8,309.5 324.2,309.5 324.7,309.5 325.1,309.8 325.6,308.9 326.1,308.7 326.5,308.7 327.0,308.7 327.4,308.7 327.9,308.9 328.3,309.6 328.8,308.0 329.3,307.7 329.7,307.8 330.2,307.8 330.6,307.7 331.1,308.1 331.5,309.3 332.0,306.4 332.5,305.9 332.9,306.0 333.4,306.2 333.8,306.3 334.3,307.2 334.8,309.0 335.2,305.4 335.7,305.1 336.1,305.3 336.6,305.7 337.0,306.0 337.5,307.0 338.0,309.0 338.4,305.2 338.9,304.9 339.3,305.2 339.8,305.6 340.2,305.9 340.7,306.9 341.2,309.0 341.6,305.1 342.1,304.8 342.5,305.1 343.0,305.6 343.4,305.8 343.9,306.8 344.4,308.9 344.8,305.0 345.3,304.7 345.7,305.0 346.2,305.5 346.6,305.7 347.1,306.8 347.6,308.9 348.0,304.9 348.5,304.6 348.9,304.9 349.4,305.3 349.9,305.5 350.3,306.7 350.8,308.9 351.2,305.0 351.7,304.9 352.1,305.3 352.6,305.8 353.1,306.2 353.5,307.2 354.0,309.1 354.4,305.9 354.9,305.9 355.3,306.4 355.8,306.9 356.3,307.2 356.7,308.0 357.2,309.3 357.6,307.0 358.1,306.9 358.5,307.2 359.0,307.5 359.5,307.8 359.9,308.4 360.4,309.5 360.8,307.6 361.3,307.5 361.7,307.7 362.2,308.0 362.7,308.2 363.1,308.7 363.6,309.6 364.0,308.1 364.5,308.0 364.9,308.2 365.4,308.5 365.9,308.6 366.3,309.0 366.8,309.7 367.2,308.4 367.7,308.3 368.2,308.4 368.6,308.5 369.1,308.6 369.5,308.9 370.0,309.6 370.4,308.3 370.9,308.2 371.4,308.3 371.8,308.5 372.3,308.5 372.7,308.9 373.2,309.6 373.6,308.1 374.1,308.0 374.6,308.0 375.0,308.2 375.5,308.2 375.9,308.6 376.4,309.5 376.8,307.8 377.3,307.6 377.8,307.7 378.2,307.8 378.7,307.8 379.1,308.3 379.6,309.4 380.0,307.0 380.5,306.7 381.0,306.8 381.4,307.0 381.9,307.1 382.3,307.7 382.8,309.2 383.3,306.1 383.7,305.6 384.2,305.7 384.6,305.9 385.1,306.0 385.5,306.8 386.0,308.9 386.5,304.6 386.9,304.0 387.4,304.2 387.8,304.5 388.3,304.6 388.7,305.8 389.2,308.5 389.7,302.7 390.1,302.0 390.6,302.3 391.0,302.7 391.5,302.8 391.9,304.4 392.4,308.1 392.9,300.6 393.3,299.8 393.8,300.2 394.2,300.7 394.7,301.0 395.1,303.0 395.6,307.6 396.1,298.3 396.5,297.4 397.0,297.9 397.4,298.5 397.9,298.7 398.3,301.2 398.8,306.9 399.3,295.0 399.7,293.6 400.2,294.2 400.6,295.1 401.1,295.5 401.6,298.9 402.0,306.2 402.5,291.5 402.9,290.1 403.4,290.2 403.8,290.5 404.3,290.4 404.8,294.3 405.2,308.4 405.2,283.0 405.7,283.0 406.1,278.8 406.6,270.2 406.6,277.0 407.0,277.0 407.0,261.7 407.5,253.4 407.5,277.0 408.0,296.0 408.0,246.2 408.4,238.9 408.4,257.6 408.9,257.6 408.9,231.6 409.3,231.2 409.3,257.6 409.8,257.6 409.8,231.2 410.2,231.2 410.2,257.6 410.7,257.6 410.7,231.2 411.2,231.2 411.2,292.7 411.6,304.7 411.6,222.1 412.1,224.3 412.1,291.1 412.5,291.1 412.5,224.3 413.0,224.3 413.0,291.1 413.4,291.1 413.4,224.3 413.9,224.3 413.9,291.1 414.4,291.1 414.4,224.3 414.8,199.1 414.8,303.3 415.3,287.1 415.3,206.0 415.7,214.0 415.7,239.0 416.2,239.0 416.2,206.0 416.7,214.0 416.7,239.0 417.1,239.0 417.1,214.0 417.6,214.0 417.6,239.0 418.0,302.7 418.0,189.1 418.5,190.4 418.5,261.7 418.9,261.7 418.9,190.4 419.4,190.4 419.4,261.7 419.9,261.7 419.9,202.0 420.3,202.0 420.3,261.7 420.8,261.7 420.8,202.0 421.2,202.0 421.2,303.5 421.7,288.5 421.7,212.2 422.1,251.4 422.1,297.1 422.6,288.5 422.6,212.2 423.1,251.4 423.1,297.1 423.5,297.1 423.5,251.4 424.0,251.4 424.0,297.1 424.4,306.5 424.4,251.4 424.9,251.4 424.9,297.1 425.3,297.1 425.3,251.4 425.8,230.0 425.8,292.4 426.3,297.1 426.3,251.4 426.7,251.4 426.7,297.1 427.2,297.1 427.2,251.4 427.6,253.5 427.6,306.6 428.1,297.6 428.1,253.5 428.5,253.5 428.5,297.6 429.0,297.6 429.0,253.5 429.5,264.2 429.5,299.9 429.9,302.9 429.9,277.7 430.4,283.4 430.4,304.1 430.8,308.4 430.8,284.0 431.3,284.7 431.3,304.4 431.7,304.6 431.7,285.4 432.2,286.0 432.2,307.6 432.7,307.7 432.7,286.7 433.1,287.3 433.1,307.7 433.6,307.8 433.6,288.0 434.0,288.4 434.0,307.8 434.5,307.9 434.5,288.9 435.0,289.4 435.0,307.9 435.4,308.0 435.4,289.8 435.9,290.3 435.9,308.0 436.3,308.1 436.3,290.7 436.8,290.9 436.8,308.1 437.2,308.1 437.2,291.0 437.7,290.9 437.7,308.1 438.2,308.1 438.2,290.9 438.6,290.8 438.6,308.1 439.1,308.0 439.1,290.2 439.5,289.7 439.5,308.0 440.0,307.9 440.0,289.2 440.4,288.6 440.4,307.9 440.9,307.8 440.9,288.1 441.4,287.5 441.4,307.8 441.8,307.7 441.8,286.8 442.3,286.1 442.3,307.6 442.7,307.5 442.7,285.4 443.2,284.7 443.2,307.5 443.6,307.4 443.6,284.0 444.1,283.3 444.1,307.3 444.6,307.3 444.6,282.5 445.0,281.4 445.0,307.1 445.5,306.9 445.5,279.0 445.9,276.7 445.9,306.7 446.4,306.4 446.4,274.3 446.8,271.9 446.8,306.2 447.3,306.0 447.3,269.6 447.8,267.2 447.8,305.7 448.2,305.4 448.2,264.4 448.7,261.3 448.7,305.1 449.1,305.0 449.1,259.8 449.6,259.8 449.6,305.0 450.1,305.0 450.1,259.8 450.5,259.8 450.5,305.0 451.0,305.0 451.0,259.8 451.4,260.5 451.4,305.1 451.9,305.2 451.9,261.5 452.3,262.5 452.3,305.3 452.8,305.4 452.8,263.5 453.3,264.5 453.3,305.5 453.7,305.6 453.7,265.5 454.2,266.9 454.2,305.7 454.6,306.0 454.6,270.1 455.1,272.8 455.1,306.3 455.5,306.3 455.5,272.8 456.0,272.8 456.0,306.3 456.5,306.3 456.5,272.8 456.9,272.8 456.9,306.3 457.4,307.5 457.4,284.6 457.8,285.0 457.8,307.5 458.3,307.5 458.3,285.4 458.7,285.8 458.7,307.6 459.2,307.6 459.2,286.2 459.7,286.6 459.7,307.7 460.1,307.7 460.1,287.1 460.6,288.9 460.6,307.9 461.0,308.1 461.0,290.7 461.5,292.6 461.5,308.3 461.9,308.4 461.9,294.0 462.4,294.1 462.4,308.4 462.9,308.4 462.9,294.2 463.3,294.3 463.3,308.4 463.8,308.5 463.8,294.9 464.2,296.9 464.2,308.7 464.7,308.7 464.7,296.9 465.1,296.9 465.1,308.7 465.6,308.7 465.6,296.9 466.1,296.9 466.1,308.7 466.5,308.7 466.5,296.9 467.0,296.9 467.0,308.7 467.4,308.7 467.4,296.9 467.9,296.9 467.9,308.7 468.4,308.7 468.4,296.9 468.8,296.7 468.8,308.7 469.3,308.6 469.3,296.0 469.7,295.3 469.7,308.5 470.2,310.0 470.2,295.4 470.6,297.7 470.6,310.0 471.1,310.0 471.1,300.0 471.6,300.0 471.6,310.0 472.0,310.0 472.0,300.0 472.5,317.0 472.9,300.0 472.9,310.0 473.4,310.0 473.4,300.0 473.8,300.0 473.8,310.0 474.3,310.0 474.3,300.0 474.8,300.0 474.8,310.0 475.2,310.0 475.2,300.0 475.7,300.0 475.7,310.0 476.1,310.0 476.1,300.0 476.6,300.0 476.6,310.0 477.0,310.0 477.0,300.0 477.5,300.0 477.5,310.0 478.0,310.0 478.0,300.0 478.4,300.0 478.4,310.0 478.9,310.0 478.9,300.0 479.3,300.0 479.3,310.0 479.8,310.0 479.8,300.0 480.2,300.0 480.2,310.0 480.7,310.0 480.7,300.0 481.2,300.0 481.2,310.0 481.6,310.0 481.6,300.0 482.1,268.0 482.1,310.0 482.5,310.0 482.5,285.0 483.0,285.0 483.0,310.0 483.5,310.0 483.5,285.0 483.9,285.0 483.9,310.0 484.4,310.0 484.4,285.0 484.8,285.0 484.8,310.0 485.3,310.0 485.3,285.0 485.7,285.0 485.7,310.0 486.2,310.0 486.2,285.0 486.7,285.0 486.7,310.0 487.1,310.0 487.1,285.0 487.6,285.0 487.6,310.0 488.0,310.0 488.0,271.4 488.5,271.4 488.5,310.0 488.9,310.0 488.9,271.4 489.4,271.4 489.4,310.0 489.9,310.0 489.9,271.4 490.3,271.4 490.3,310.0 490.8,310.0 490.8,271.4 491.2,252.2 491.2,310.0 491.7,310.0 491.7,271.4 492.1,271.4 492.1,310.0 492.6,310.0 492.6,272.0 493.1,272.0 493.1,310.0 493.5,310.0 493.5,272.0 494.0,272.0 494.0,310.0 494.4,310.0 494.4,272.0 494.9,250.1 494.9,310.0 495.3,310.0 495.3,272.0 495.8,272.0 495.8,310.0 496.3,310.0 496.3,272.0 496.7,272.0 496.7,310.0 497.2,310.0 497.2,272.0 497.6,272.0 497.6,310.0 498.1,310.0 498.1,224.1 498.5,272.0 498.5,310.0 499.0,310.0 499.0,272.0 499.5,278.9 499.5,310.0 499.9,310.0 499.9,278.9 500.4,278.9 500.4,310.0 500.8,310.0 500.8,278.9 501.3,278.9 501.3,310.0 501.8,310.0 501.8,288.8 502.2,288.8 502.2,310.0 502.7,310.0 502.7,288.8 503.1,288.8 503.1,310.0 503.6,310.0 503.6,288.8 504.0,288.8 504.0,310.0 504.5,310.0 504.5,288.8 505.0,288.8 505.0,310.0 505.4,310.0 505.4,293.8 505.9,293.8 505.9,310.0 506.3,310.0 506.3,293.8 506.8,293.8 506.8,310.0 507.2,310.0 507.2,293.8 507.7,293.8 507.7,310.0 508.2,310.0 508.2,293.8 508.6,296.9 508.6,310.0 509.1,310.0 509.1,296.9 509.5,296.9 509.5,310.0 510.0,310.0 510.0,296.9 510.4,296.9 510.4,310.0 510.9,310.0 510.9,296.9 511.4,296.9 511.4,310.0 511.8,310.0 511.8,299.0 512.3,299.0 512.3,310.0 512.7,310.0 512.7,299.0 513.2,299.0 513.2,310.0 513.6,310.0 513.6,299.0 514.1,299.0 514.1,310.0 514.6,310.0 514.6,299.0 515.0,299.0 515.0,310.0 515.5,310.0 515.5,300.6 515.9,300.6 515.9,310.0 516.4,310.0 516.4,300.6 516.9,300.6 516.9,310.0 517.3,310.0 517.3,300.6 517.8,300.6 517.8,310.0 518.2,310.0 518.2,300.6 518.7,300.6 518.7,310.0 519.1,310.0 519.1,301.0 519.6,301.0 519.6,310.0 520.1,310.0 520.1,301.0 520.5,301.0 520.5,310.0 521.0,310.0 521.0,301.0 521.4,301.0 521.4,310.0 521.9,310.0 521.9,301.0 522.3,301.0 522.3,310.0 522.8,310.0 522.8,301.0 523.3,298.8 523.3,310.0 523.7,310.0 523.7,298.8 524.2,298.8 524.2,310.0 524.6,310.0 524.6,298.8 525.1,298.8 525.1,310.0 525.5,310.0 525.5,298.8 526.0,298.8 526.0,310.0 526.5,310.0 526.5,296.2 526.9,296.2 526.9,310.0 527.4,310.0 527.4,296.2 527.8,296.2 527.8,310.0 528.3,310.0 528.3,296.2 528.7,296.2 528.7,310.0 529.2,310.0 529.2,296.2 529.7,296.2 529.7,310.0 530.1,310.0 530.1,291.9 530.6,291.9 530.6,310.0 531.0,310.0 531.0,291.9 531.5,291.9 531.5,310.0 531.9,310.0 531.9,291.9 532.4,291.9 532.4,310.0 532.9,310.0 532.9,291.9 533.3,291.9 533.3,310.0 533.8,310.0 533.8,288.0 534.2,288.0 534.2,310.0 534.7,310.0 534.7,288.0 535.2,288.0 535.2,310.0 535.6,310.0 535.6,288.0 536.1,288.0 536.1,310.0 536.5,310.0 536.5,288.0 537.0,288.0 537.0,310.0 537.4,310.0 537.4,283.8 537.9,283.8 537.9,310.0 538.4,310.0 538.4,283.8 538.8,283.8 538.8,310.0 539.3,310.0 539.3,288.8 539.7,288.8 539.7,310.0 540.2,310.0 540.2,288.8 540.6,288.8 540.6,310.0 541.1,310.0 541.1,288.8 541.6,288.8 541.6,310.0 542.0,310.0 542.0,293.8 542.5,293.8 542.5,310.0 542.9,310.0 542.9,293.8 543.4,293.8 543.4,310.0 543.8,310.0 543.8,293.8 544.3,298.8 544.3,310.0 544.8,310.0 544.8,298.8 545.2,298.8 545.2,310.0 545.7,310.0 545.7,298.8 546.1,298.8 546.1,310.0 546.6,310.0 546.6,298.8 547.0,298.8 547.0,310.0 547.5,310.0 547.5,298.8 548.0,298.8 548.0,310.0 548.4,310.0 548.4,298.8 548.9,298.8 548.9,310.0 549.3,310.0 549.3,298.8 549.8,300.0 549.8,310.0 550.3,310.0 550.3,300.0 550.7,300.0 550.7,310.0 551.2,310.0 551.2,300.0 551.6,300.0 551.6,310.0 552.1,310.0 552.1,300.0 552.5,295.0 552.5,310.0 553.0,310.0 553.0,300.0 553.5,300.0 553.5,310.0 553.9,310.0 553.9,300.0 554.4,300.0 554.4,310.0 554.8,310.0 554.8,300.0 555.3,300.0 555.3,310.0 555.7,310.0 555.7,294.0 556.2,294.0 556.2,310.0 556.7,310.0 556.7,297.0 557.1,297.0 557.1,310.0 557.6,310.0 557.6,297.0 558.0,297.0 558.0,310.0 558.5,310.0 558.5,297.0 558.9,287.0 558.9,310.0 559.4,310.0 559.4,291.0 559.9,291.0 559.9,310.0 560.3,310.0 560.3,291.0 560.8,291.0 560.8,310.0 561.2,310.0 561.2,291.0 561.7,291.0 561.7,310.0 562.1,310.0 562.1,285.0 562.6,290.0 562.6,310.0 563.1,310.0 563.1,290.0 563.5,290.0 563.5,310.0 564.0,310.0 564.0,290.0 564.4,290.0 564.4,310.0 564.9,310.0 564.9,282.0 565.3,282.0 565.3,310.0 565.8,310.0 565.8,290.0 566.3,290.0 566.3,310.0 566.7,310.0 566.7,290.0 567.2,290.0 567.2,310.0 567.6,310.0 567.6,290.0 568.1,287.0 568.1,310.0 568.6,310.0 568.6,288.0 569.0,288.0 569.0,310.0 569.5,310.0 569.5,288.0 569.9,288.0 569.9,310.0 570.4,310.0 570.4,298.0 570.8,298.0 570.8,310.0 571.3,310.0 571.3,298.0 571.8,298.0 571.8,310.0 572.2,310.0 572.2,298.0 572.7,300.6 572.7,310.0 573.1,310.0 573.1,301.4 573.6,302.1 573.6,310.0 574.0,310.0 574.0,302.9 574.5,303.2 574.5,310.0 575.0,310.0 575.0,303.5 575.4,303.8 575.4,310.0 575.9,310.0 575.9,304.1 576.3,304.4 576.3,310.0 576.8,310.0 576.8,304.7 577.2,305.0 577.2,310.0 577.7,310.0 577.7,305.3 578.2,305.5 578.2,310.0 578.6,310.0 578.6,305.7 579.1,305.9 579.1,310.0 579.5,310.0 579.5,306.0 580.0,306.2 580.0,310.0 580.4,310.0 580.4,306.4 580.9,306.6 580.9,310.0 581.4,310.0 581.4,306.7 581.8,306.9 581.8,310.0 582.3,310.0 582.3,307.0 582.7,307.1 582.7,310.0 583.2,310.0 583.2,307.2 583.7,307.3 583.7,310.0 584.1,310.0 584.1,307.4 584.6,307.5 584.6,310.0 585.0,310.0 585.0,307.6 585.5,307.8 585.5,310.0 585.9,310.0 585.9,307.9 586.4,308.0 586.4,310.0 586.9,310.0 586.9,308.0 587.3,308.0 587.3,310.0"/>
<polyline fill="none" stroke="#5dc9d8" stroke-opacity="0.8" stroke-width="2" stroke-linejoin="round" points="100.0,310.0 100.5,310.0 101.0,310.0 101.4,309.9 101.9,309.9 102.3,309.9 102.8,309.9 103.2,309.9 103.7,309.8 104.2,309.8 104.6,309.8 105.1,309.7 105.5,309.7 106.0,309.7 106.4,309.7 106.9,309.7 107.4,309.7 107.8,309.6 108.3,309.6 108.7,309.5 109.2,309.4 109.6,309.4 110.1,309.3 110.6,309.2 111.0,309.1 111.5,309.0 111.9,308.9 112.4,308.8 112.8,308.9 113.3,308.9 113.8,308.8 114.2,308.8 114.7,308.6 115.1,308.6 115.6,308.6 116.1,308.7 116.5,308.8 117.0,308.7 117.4,308.6 117.9,308.5 118.3,308.5 118.8,308.6 119.3,308.7 119.7,308.8 120.2,308.8 120.6,308.8 121.1,308.7 121.5,308.7 122.0,308.8 122.5,308.9 122.9,309.0 123.4,309.0 123.8,309.0 124.3,308.9 124.7,309.0 125.2,309.0 125.7,309.1 126.1,309.2 126.6,309.2 127.0,309.2 127.5,309.2 127.9,309.2 128.4,309.2 128.9,309.3 129.3,309.4 129.8,309.4 130.2,309.4 130.7,309.4 131.1,309.4 131.6,309.5 132.1,309.6 132.5,309.6 133.0,309.6 133.4,309.6 133.9,309.6 134.4,309.6 134.8,309.6 135.3,309.7 135.7,309.7 136.2,309.7 136.6,309.7 137.1,309.7 137.6,309.7 138.0,309.7 138.5,309.8 138.9,309.8 139.4,309.8 139.8,309.8 140.3,309.8 140.8,309.8 141.2,309.8 141.7,309.8 142.1,309.8 142.6,309.8 143.0,309.8 143.5,309.8 144.0,309.8 144.4,309.8 144.9,309.8 145.3,309.8 145.8,309.8 146.2,309.8 146.7,309.8 147.2,309.8 147.6,309.8 148.1,309.8 148.5,309.8 149.0,309.8 149.5,309.8 149.9,309.8 150.4,309.8 150.8,309.8 151.3,309.8 151.7,309.8 152.2,309.8 152.7,309.8 153.1,309.8 153.6,309.8 154.0,309.8 154.5,309.8 154.9,309.8 155.4,309.8 155.9,309.8 156.3,309.8 156.8,309.8 157.2,309.8 157.7,309.8 158.1,309.8 158.6,309.8 159.1,309.8 159.5,309.8 160.0,309.8 160.4,309.8 160.9,309.8 161.3,309.8 161.8,309.8 162.3,309.8 162.7,309.8 163.2,309.8 163.6,309.8 164.1,309.8 164.5,309.8 165.0,309.8 165.5,309.8 165.9,309.8 166.4,309.8 166.8,309.8 167.3,309.8 167.8,309.8 168.2,309.8 168.7,309.8 169.1,309.8 169.6,309.8 170.0,309.8 170.5,309.8 171.0,309.8 171.4,309.8 171.9,309.8 172.3,309.7 172.8,309.7 173.2,309.7 173.7,309.7 174.2,309.7 174.6,309.7 175.1,309.7 175.5,309.7 176.0,309.6 176.4,309.6 176.9,309.7 177.4,309.7 177.8,309.6 178.3,309.6 178.7,309.6 179.2,309.6 179.6,309.6 180.1,309.6 180.6,309.6 181.0,309.6 181.5,309.5 181.9,309.5 182.4,309.5 182.9,309.5 183.3,309.5 183.8,309.5 184.2,309.5 184.7,309.5 185.1,309.4 185.6,309.3 186.1,309.3 186.5,309.3 187.0,309.3 187.4,309.2 187.9,309.1 188.3,309.0 188.8,309.0 189.3,308.9 189.7,309.0 190.2,309.0 190.6,308.9 191.1,308.8 191.5,308.7 192.0,308.6 192.5,308.6 192.9,308.7 193.4,308.7 193.8,308.5 194.3,308.4 194.7,308.2 195.2,308.1 195.7,308.0 196.1,308.1 196.6,308.1 197.0,307.9 197.5,307.8 197.9,307.5 198.4,307.3 198.9,307.2 199.3,307.3 199.8,307.3 200.2,306.9 200.7,306.7 201.2,306.2 201.6,306.1 202.1,306.0 202.5,306.1 203.0,306.2 203.4,305.8 203.9,305.6 204.4,305.1 204.8,305.0 205.3,304.9 205.7,305.2 206.2,305.4 206.6,305.0 207.1,304.7 207.6,304.1 208.0,304.0 208.5,304.0 208.9,304.4 209.4,304.7 209.8,304.3 210.3,304.1 210.8,303.4 211.2,303.4 211.7,303.4 212.1,303.9 212.6,304.3 213.0,304.0 213.5,304.0 214.0,303.5 214.4,303.6 214.9,303.8 215.3,304.3 215.8,304.7 216.3,304.5 216.7,304.5 217.2,304.2 217.6,304.4 218.1,304.6 218.5,305.2 219.0,305.6 219.5,305.5 219.9,305.5 220.4,305.3 220.8,305.4 221.3,305.6 221.7,306.0 222.2,306.3 222.7,306.1 223.1,306.1 223.6,305.8 224.0,305.9 224.5,306.0 224.9,306.4 225.4,306.5 225.9,306.2 226.3,306.0 226.8,305.6 227.2,305.4 227.7,305.4 228.1,305.7 228.6,305.8 229.1,305.5 229.5,305.0 230.0,304.1 230.4,303.7 230.9,303.5 231.3,303.6 231.8,303.7 232.3,302.9 232.7,302.4 233.2,301.4 233.6,301.0 234.1,300.9 234.6,301.3 235.0,301.5 235.5,300.7 235.9,300.2 236.4,299.0 236.8,298.6 237.3,298.5 237.8,299.2 238.2,299.5 238.7,298.6 239.1,298.1 239.6,296.8 240.0,296.5 240.5,296.4 241.0,297.1 241.4,297.5 241.9,296.4 242.3,295.8 242.8,294.7 243.2,295.2 243.7,295.9 244.2,297.5 244.6,298.6 245.1,298.4 245.5,298.5 246.0,297.9 246.4,298.3 246.9,298.9 247.4,300.2 247.8,301.0 248.3,300.9 248.7,301.0 249.2,300.6 249.7,301.0 250.1,301.5 250.6,302.4 251.0,303.1 251.5,303.0 251.9,303.2 252.4,302.9 252.9,303.2 253.3,303.6 253.8,304.5 254.2,305.0 254.7,304.8 255.1,304.9 255.6,304.6 256.1,304.8 256.5,305.1 257.0,305.6 257.4,306.0 257.9,305.9 258.3,306.0 258.8,305.8 259.3,306.0 259.7,306.3 260.2,306.7 260.6,307.0 261.1,306.9 261.5,306.9 262.0,306.8 262.5,306.9 262.9,307.1 263.4,307.4 263.8,307.6 264.3,307.6 264.7,307.6 265.2,307.5 265.7,307.6 266.1,307.8 266.6,308.1 267.0,308.3 267.5,308.3 268.0,308.3 268.4,308.2 268.9,308.3 269.3,308.3 269.8,308.5 270.2,308.6 270.7,308.6 271.2,308.6 271.6,308.5 272.1,308.5 272.5,308.6 273.0,308.7 273.4,308.8 273.9,308.8 274.4,308.8 274.8,308.7 275.3,308.8 275.7,308.8 276.2,309.0 276.6,309.1 277.1,309.0 277.6,309.0 278.0,309.0 278.5,309.0 278.9,309.0 279.4,309.1 279.8,309.2 280.3,309.1 280.8,309.1 281.2,309.1 281.7,309.1 282.1,309.1 282.6,309.2 283.1,309.2 283.5,309.2 284.0,309.2 284.4,309.1 284.9,309.1 285.3,309.1 285.8,309.2 286.3,309.3 286.7,309.2 287.2,309.2 287.6,309.2 288.1,309.2 288.5,309.2 289.0,309.3 289.5,309.3 289.9,309.3 290.4,309.3 290.8,309.2 291.3,309.2 291.7,309.2 292.2,309.3 292.7,309.3 293.1,309.3 293.6,309.3 294.0,309.2 294.5,309.2 294.9,309.2 295.4,309.3 295.9,309.3 296.3,309.3 296.8,309.3 297.2,309.2 297.7,309.2 298.1,309.2 298.6,309.3 299.1,309.3 299.5,309.3 300.0,309.3 300.4,309.2 300.9,309.2 301.4,309.3 301.8,309.4 302.3,309.4 302.7,309.4 303.2,309.4 303.6,309.4 304.1,309.4 304.6,309.4 305.0,309.5 305.5,309.6 305.9,309.5 306.4,309.5 306.8,309.5 307.3,309.4 307.8,309.4 308.2,309.5 308.7,309.5 309.1,309.4 309.6,309.4 310.0,309.3 310.5,309.3 311.0,309.3 311.4,309.3 311.9,309.3 312.3,309.2 312.8,309.1 313.2,309.0 313.7,308.9 314.2,308.8 314.6,308.8 315.1,308.8 315.5,308.5 316.0,308.3 316.5,307.9 316.9,307.7 317.4,307.6 317.8,307.6 318.3,307.5 318.7,307.2 319.2,306.9 319.7,306.2 320.1,305.9 320.6,305.7 321.0,305.7 321.5,305.7 321.9,305.1 322.4,304.7 322.9,303.9 323.3,303.6 323.8,303.4 324.2,303.8 324.7,304.1 325.1,303.6 325.6,303.3 326.1,302.6 326.5,302.4 327.0,302.3 327.4,302.2 327.9,302.0 328.3,300.8 328.8,299.8 329.3,298.2 329.7,297.4 330.2,298.0 330.6,299.3 331.1,300.4 331.5,300.8 332.0,301.5 332.5,301.8 332.9,302.5 333.4,302.7 333.8,303.4 334.3,303.8 334.8,303.5 335.2,303.4 335.7,302.9 336.1,302.9 336.6,303.1 337.0,303.7 337.5,304.1 338.0,303.7 338.4,303.6 338.9,302.9 339.3,302.9 339.8,303.0 340.2,303.5 340.7,303.8 341.2,303.4 341.6,303.2 342.1,302.6 342.5,302.5 343.0,302.5 343.4,302.9 343.9,303.2 344.4,302.6 344.8,302.3 345.3,301.4 345.7,301.3 346.2,301.3 346.6,301.8 347.1,302.1 347.6,301.5 348.0,301.4 348.5,300.6 348.9,300.6 349.4,300.8 349.9,301.5 350.3,302.0 350.8,301.5 351.2,301.4 351.7,300.6 352.1,300.6 352.6,300.9 353.1,301.9 353.5,302.6 354.0,302.4 354.4,302.5 354.9,302.2 355.3,302.5 355.8,302.9 356.3,303.8 356.7,304.1 357.2,303.7 357.6,303.4 358.1,302.8 358.5,302.7 359.0,302.8 359.5,303.3 359.9,303.6 360.4,303.2 360.8,303.0 361.3,302.3 361.7,302.3 362.2,302.4 362.7,303.0 363.1,303.3 363.6,302.9 364.0,302.7 364.5,302.0 364.9,301.9 365.4,301.9 365.9,302.4 366.3,302.7 366.8,302.1 367.2,301.8 367.7,300.9 368.2,300.7 368.6,300.7 369.1,301.3 369.5,301.7 370.0,301.0 370.4,300.6 370.9,299.7 371.4,299.5 371.8,299.5 372.3,300.2 372.7,300.6 373.2,299.9 373.6,299.5 374.1,298.4 374.6,298.4 375.0,298.8 375.5,299.9 375.9,300.7 376.4,300.3 376.8,300.3 377.3,299.7 377.8,300.0 378.2,300.5 378.7,301.6 379.1,302.3 379.6,302.2 380.0,302.3 380.5,302.0 381.0,302.3 381.4,302.4 381.9,303.0 382.3,303.3 382.8,302.9 383.3,302.7 383.7,302.0 384.2,301.9 384.6,301.9 385.1,302.3 385.5,302.5 386.0,301.9 386.5,301.5 386.9,300.5 387.4,300.3 387.8,300.3 388.3,300.9 388.7,301.3 389.2,300.7 389.7,300.4 390.1,299.5 390.6,299.4 391.0,299.5 391.5,300.2 391.9,300.7 392.4,299.9 392.9,299.5 393.3,298.3 393.8,298.1 394.2,298.1 394.7,298.9 395.1,299.3 395.6,298.5 396.1,298.0 396.5,296.6 397.0,296.2 397.4,296.0 397.9,296.8 398.3,297.2 398.8,296.1 399.3,295.0 399.7,292.4 400.2,291.1 400.6,290.2 401.1,290.6 401.6,290.4 402.0,287.8 402.5,285.9 402.9,282.3 403.4,280.1 403.8,278.4 404.3,279.0 404.8,278.7 405.2,285.5 405.7,275.8 406.1,264.1 406.6,260.9 407.0,265.7 407.5,278.3 408.0,280.6 408.4,276.4 408.9,266.0 409.3,259.8 409.8,264.9 410.2,276.0 410.7,287.5 411.2,290.8 411.6,289.6 412.1,284.1 412.5,278.2 413.0,278.7 413.4,283.9 413.9,291.9 414.4,293.7 414.8,291.9 415.3,287.1 415.7,281.9 416.2,282.4 416.7,287.0 417.1,294.1 417.6,295.7 418.0,294.2 418.5,290.1 418.9,285.6 419.4,286.1 419.9,290.1 420.3,296.2 420.8,297.6 421.2,106.6 421.7,292.8 422.1,289.0 422.6,289.5 423.1,293.0 423.5,298.3 424.0,299.5 424.4,298.5 424.9,295.5 424.9,271.5 425.3,271.5 425.3,292.3 425.8,292.8 425.8,271.5 426.3,271.5 426.3,295.8 426.7,300.2 427.2,301.3 427.6,300.5 428.1,298.1 428.5,295.5 429.0,296.0 429.5,298.4 429.9,302.1 430.4,302.9 430.8,302.3 431.3,300.4 431.7,298.4 432.2,298.7 432.7,310.0 433.1,310.0 433.6,310.0 433.6,301.4 434.0,301.4 434.0,310.0 434.5,310.0 434.5,286.2 435.0,301.3 435.0,310.0 435.4,310.0 435.4,301.2 435.9,301.3 435.9,310.0 436.3,310.0 436.3,301.2 436.8,300.9 436.8,310.0 437.2,310.0 437.2,280.0 437.7,298.9 437.7,310.0 438.2,310.0 438.2,299.0 438.6,299.2 438.6,310.0 439.1,310.0 439.1,299.0 439.5,298.6 439.5,310.0 440.0,310.0 440.0,298.2 440.4,268.9 440.4,310.0 440.9,310.0 440.9,295.7 441.4,295.5 441.4,310.0 441.8,310.0 441.8,295.6 442.3,295.5 442.3,310.0 442.7,310.0 442.7,295.3 443.2,256.0 443.2,310.0 443.6,310.0 443.6,256.0 444.1,256.0 444.1,310.0 444.6,310.0 444.6,258.2 445.0,258.2 445.0,310.0 445.5,310.0 445.5,258.2 445.9,258.2 445.9,310.0 446.4,310.0 446.4,258.2 446.8,258.2 446.8,310.0 447.3,310.0 447.3,302.1 447.8,303.0 447.8,310.0 448.2,310.0 448.2,303.0 448.7,303.0 448.7,310.0 449.1,310.0 449.1,303.0 449.6,276.0 449.6,310.0 450.1,310.0 450.1,303.3 450.5,303.3 450.5,310.0 451.0,310.0 451.0,303.4 451.4,303.4 451.4,310.0 451.9,310.0 451.9,303.4 452.3,303.4 452.3,310.0 452.8,310.0 452.8,303.4 453.3,288.1 453.3,310.0 453.7,310.0 453.7,303.4 454.2,303.4 454.2,310.0 454.6,310.0 454.6,303.4 455.1,303.4 455.1,310.0 455.5,310.0 455.5,303.3 456.0,303.2 456.0,310.0 456.5,310.0 456.5,303.2 456.9,281.9 456.9,310.0 457.4,310.0 457.4,303.5 457.8,303.7 457.8,310.0 458.3,310.0 458.3,303.9 458.7,303.9 458.7,310.0 459.2,310.0 459.2,303.9 459.7,305.1 459.7,310.0 460.1,310.0 460.1,293.9 460.6,305.6 460.6,310.0 461.0,310.0 461.0,305.6 461.5,305.7 461.5,310.0 461.9,310.0 461.9,305.7 462.4,305.7 462.4,310.0 462.9,310.0 462.9,305.7 463.3,294.5 463.3,310.0 463.8,310.0 463.8,306.0 464.2,306.0 464.2,310.0 464.7,310.0 464.7,306.0 465.1,306.0 465.1,310.0 465.6,310.0 465.6,306.0 466.1,306.0 466.1,310.0 466.5,310.0 466.5,305.9 467.0,305.9 467.0,310.0 467.4,310.0 467.4,305.8 467.9,305.8 467.9,310.0 468.4,310.0 468.4,305.8 468.8,305.7 468.8,310.0 469.3,310.0 469.3,305.7 469.7,305.6 469.7,310.0 470.2,310.0 470.2,305.6 470.6,305.5 470.6,310.0 471.1,310.0 471.1,305.5 471.6,305.4 471.6,310.0 472.0,310.0 472.0,305.4 472.5,305.3 472.5,310.0 472.9,310.0 472.9,305.3 473.4,305.3 473.4,310.0 473.8,310.0 473.8,305.2 474.3,305.2 474.3,310.0 474.8,310.0 474.8,305.1 475.2,305.1 475.2,310.0 475.7,310.0 475.7,305.0 476.1,305.0 476.1,310.0 476.6,310.0 476.6,304.9 477.0,304.8 477.0,310.0 477.5,310.0 477.5,304.7 478.0,304.6 478.0,310.0 478.4,310.0 478.4,304.5 478.9,304.4 478.9,310.0 479.3,310.0 479.3,304.3 479.8,304.2 479.8,310.0 480.2,310.0 480.2,304.1 480.7,304.0 480.7,310.0 481.2,310.0 481.2,303.9 481.6,303.7 481.6,310.0 482.1,310.0 482.1,303.6 482.5,303.4 482.5,310.0 483.0,310.0 483.0,303.2 483.5,303.0 483.5,310.0 483.9,310.0 483.9,302.9 484.4,302.7 484.4,310.0 484.8,310.0 484.8,302.5 485.3,302.3 485.3,310.0 485.7,310.0 485.7,302.1 486.2,301.9 486.2,310.0 486.7,310.0 486.7,301.6 487.1,301.4 487.1,310.0 487.6,310.0 487.6,301.2 488.0,300.9 488.0,310.0 488.5,310.0 488.5,300.6 488.9,300.2 488.9,310.0 489.4,310.0 489.4,299.9 489.9,299.5 489.9,310.0 490.3,310.0 490.8,310.0 491.2,310.0 491.7,310.0 492.1,310.0 492.1,276.4 492.6,276.4 492.6,310.0 493.1,310.0 493.5,310.0 494.0,310.0 494.4,310.0 494.9,310.0 495.3,310.0 495.3,264.0 495.8,264.0 495.8,310.0 496.3,310.0 496.3,264.0 496.7,310.0 497.2,310.0 497.6,310.0 498.1,310.0 498.5,310.0 499.0,277.0 499.0,310.0 499.5,310.0 499.9,310.0 500.4,310.0 500.8,310.0 501.3,310.0 501.8,310.0 501.8,288.8 502.2,288.8 502.2,310.0 502.7,310.0 502.7,288.8 503.1,288.8 503.1,310.0 503.6,310.0 504.0,310.0 504.5,310.0 505.0,310.0 505.4,310.0 505.4,293.8 505.9,293.8 505.9,310.0 506.3,310.0 506.8,310.0 507.2,310.0 507.7,310.0 508.2,310.0 508.6,310.0 508.6,297.5 509.1,297.5 509.1,310.0 509.5,310.0 510.0,310.0 510.4,310.0 510.9,310.0 511.4,310.0 511.4,300.0 511.8,300.0 511.8,310.0 512.3,310.0 512.3,300.0 512.7,310.0 513.2,310.0 513.6,310.0 514.1,310.0 514.6,310.0 515.0,301.9 515.0,310.0 515.5,310.0 515.9,310.0 516.4,310.0 516.9,310.0 517.3,310.0 517.8,310.0 518.2,310.0 518.2,303.1 518.7,303.1 518.7,310.0 519.1,310.0 519.6,310.0 520.1,310.0 520.5,310.0 521.0,310.0 521.0,303.8 521.4,303.8 521.4,310.0 521.9,310.0 521.9,303.8 522.3,303.8 522.3,310.0 522.8,310.0 523.3,310.0 523.7,310.0 524.2,310.0 524.6,310.0 524.6,302.5 525.1,302.5 525.1,310.0 525.5,310.0 526.0,310.0 526.5,310.0 526.9,310.0 527.4,310.0 527.4,301.2 527.8,301.2 527.8,310.0 528.3,310.0 528.3,301.2 528.7,310.0 529.2,310.0 529.7,310.0 530.1,310.0 530.6,310.0 531.0,297.5 531.0,310.0 531.5,310.0 531.5,297.5 531.9,310.0 532.4,310.0 532.9,310.0 533.3,310.0 533.8,310.0 534.2,295.0 534.2,310.0 534.7,310.0 535.2,310.0 535.6,310.0 536.1,310.0 536.5,310.0 537.0,310.0 537.0,295.6 537.4,295.6 537.4,310.0 537.9,310.0 537.9,295.6 538.4,310.0 538.8,310.0 539.3,310.0 539.7,310.0 540.2,310.0 540.6,297.5 540.6,310.0 541.1,310.0 541.1,297.5 541.6,310.0 542.0,310.0 542.5,310.0 542.9,310.0 543.4,299.4 543.4,310.0 543.8,310.0 543.8,299.4 544.3,299.4 544.3,310.0 544.8,310.0 544.8,299.4 545.2,310.0 545.7,310.0 546.1,310.0 546.6,310.0 547.0,301.2 547.0,310.0 547.5,310.0 547.5,301.2 548.0,310.0 548.4,310.0 548.9,310.0 549.3,310.0 549.8,310.0 550.3,303.5 550.3,310.0 550.7,310.0 550.7,303.5 551.2,310.0 551.6,310.0 552.1,310.0 552.5,310.0 553.0,305.0 553.0,310.0 553.5,310.0 553.5,305.0 553.9,305.0 553.9,310.0 554.4,310.0 554.8,310.0 555.3,310.0 555.7,310.0 556.2,310.0 556.7,310.0 556.7,305.0 557.1,310.0 557.6,310.0 558.0,310.0 558.5,310.0 558.9,310.0 559.4,310.0 559.9,305.0 559.9,310.0 560.3,310.0 560.3,305.0 560.8,310.0 561.2,310.0 561.7,310.0 562.1,310.0 562.6,304.0 562.6,310.0 563.1,310.0 563.1,304.0 563.5,304.0 563.5,310.0 564.0,310.0 564.4,310.0 564.9,310.0 565.3,310.0 565.8,310.0 566.3,310.0 566.3,303.0 566.7,303.0 566.7,310.0 567.2,310.0 567.6,310.0 568.1,310.0 568.6,310.0 569.0,310.0 569.0,301.0 569.5,301.0 569.5,310.0 569.9,310.0 569.9,301.0 570.4,301.0 570.4,310.0 570.8,310.0 571.3,310.0 571.8,310.0 572.2,310.0 572.7,310.0 572.7,298.0 573.1,298.0 573.1,310.0 573.6,310.0 574.0,310.0 574.5,310.0 575.0,310.0 575.4,310.0 575.4,292.0 575.9,292.0 575.9,310.0 576.3,310.0 576.3,292.0 576.8,292.0 576.8,310.0 577.2,310.0 577.2,292.0 577.7,310.0 578.2,310.0 578.6,310.0 579.1,310.0 579.5,302.5 579.5,310.0 580.0,310.0 580.0,302.5 580.4,302.5 580.4,310.0 580.9,310.0 581.4,310.0 581.8,310.0 582.3,310.0 582.7,310.0 582.7,306.0 583.2,306.0 583.2,310.0 583.7,310.0 584.1,310.0 584.6,310.0 585.0,310.0 585.5,310.0 585.9,310.0 585.9,306.0 586.4,306.0 586.4,310.0 586.9,310.0 587.3,310.0"/>
</g>
<!-- axes -->
<g fill="#000">
<rect x="74" y="92" width="2" height="317"/>
<rect x="75" y="408" width="536" height="2"/>
</g>
<g fill="#1f1f1f">
<rect x="70" y="189" width="4" height="2"/>
<rect x="70" y="309" width="4" height="2"/>
<rect x="239" y="410" width="2" height="3.75"/>
<rect x="406" y="410" width="2" height="3.75"/>
<rect x="573" y="410" width="2" height="3.75"/>
</g>
<!-- tick labels -->
<g class="tick">
<text x="65" y="196" text-anchor="end">500000</text>
<text x="65.6" y="316" text-anchor="end">0</text>
<text x="239.6" y="428.8" text-anchor="middle">2021-01</text>
<text x="407.1" y="428.8" text-anchor="middle">2022-01</text>
<text x="574" y="428.8" text-anchor="middle">2023-01</text>
</g>
<!-- axis titles -->
<text class="sans" font-size="15.5" letter-spacing="0.8" fill="#000" text-anchor="middle" transform="translate(15.7,249.6) rotate(-90)">新增确诊病例</text>
<text class="sans" font-size="15.5" fill="#000" text-anchor="middle" x="342.6" y="449.3">日期</text>
<!-- caption -->
<text class="sans" font-size="14" fill="#000" x="-0.5" y="468.8">来源：约翰霍普金斯大学、第一财经研究院计算</text>
</svg>
</body>
</html>
